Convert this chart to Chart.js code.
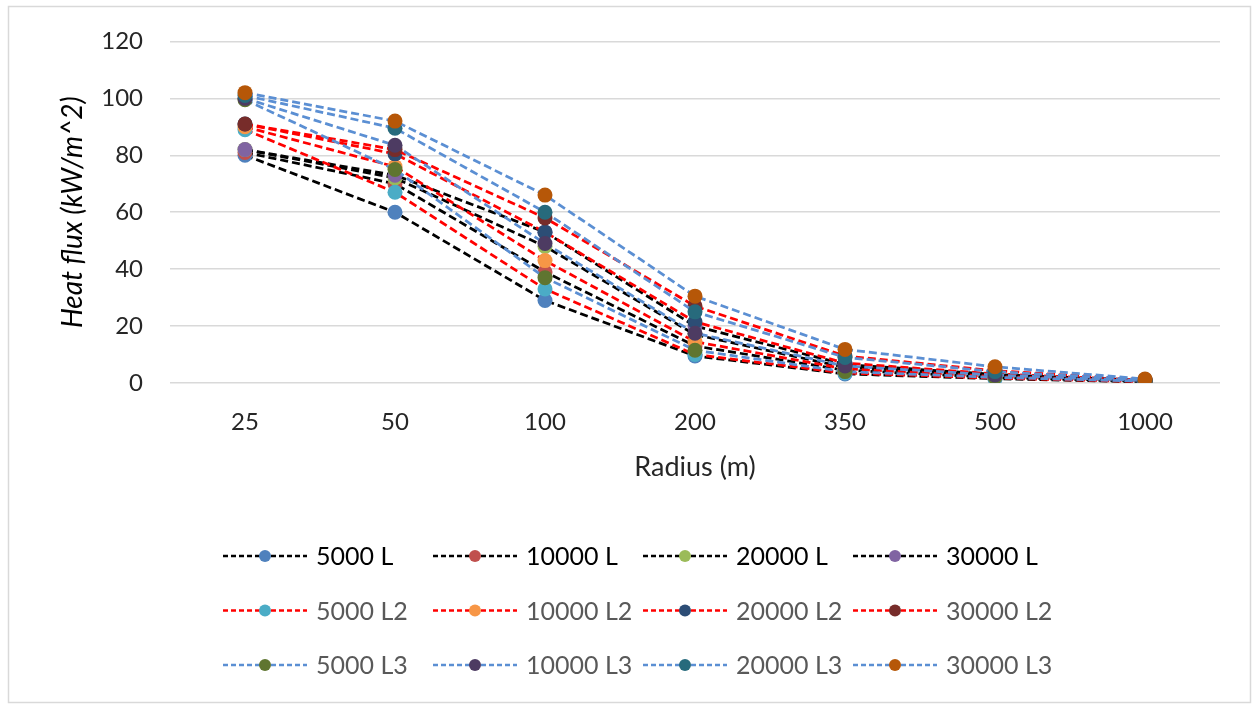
<!DOCTYPE html>
<html>
<head>
<meta charset="utf-8">
<script src="https://cdn.jsdelivr.net/npm/chart.js@4.4.1/dist/chart.umd.min.js"></script>
<style>
  html, body { margin: 0; padding: 0; background: #fff; }
  #wrap { width: 1252px; height: 704px; }
</style>
</head>
<body>
<div id="wrap"><canvas id="fluxChart" width="1252" height="704"></canvas></div>
<script>
// categories (radius, m)
const radii = ["25", "50", "100", "200", "350", "500", "1000"];
const yTicks = [0, 20, 40, 60, 80, 100, 120];

// heat flux values, kW/m^2
const v5000L   = [80, 60, 29, 9.5, 3.2, 1.5, 0.4];
const v10000L  = [81, 70, 39, 13, 4.5, 2.0, 0.6];
const v20000L  = [82, 72, 48, 17, 5.5, 2.6, 0.8];
const v30000L  = [82, 73, 53, 20, 6.5, 3.0, 0.9];
const v5000L2  = [89, 67, 33, 10, 3.5, 1.7, 0.5];
const v10000L2 = [90, 76, 43, 14.5, 5, 2.3, 0.7];
const v20000L2 = [91, 80.5, 53, 21.5, 7, 3.2, 1.0];
const v30000L2 = [91, 82, 58, 27, 9.5, 4.3, 1.2];
const v5000L3  = [99.5, 75, 37, 11.5, 4, 2.0, 0.6];
const v10000L3 = [100, 83.5, 49, 17.5, 6, 2.8, 0.8];
const v20000L3 = [101, 89.5, 60, 25, 9, 4.0, 1.1];
const v30000L3 = [102, 92, 66, 30.5, 11.8, 5.7, 1.4];

const seriesNames = ["5000 L", "10000 L", "20000 L", "30000 L",
                     "5000 L2", "10000 L2", "20000 L2", "30000 L2",
                     "5000 L3", "10000 L3", "20000 L3", "30000 L3"];
const seriesValues = [v5000L, v10000L, v20000L, v30000L,
                      v5000L2, v10000L2, v20000L2, v30000L2,
                      v5000L3, v10000L3, v20000L3, v30000L3];

// styles
const lineColors = ["#000000", "#ff0000", "#5b8fd3"];
const markerColors = ["#4f81bd", "#c0504d", "#9bbb59", "#8064a2",
                      "#4bacc6", "#f79646", "#2c4d75", "#772c2a",
                      "#5f7530", "#4d3b62", "#276a7c", "#b65708"];
const FONT = "Lato";

const datasets = seriesNames.map((name, i) => ({
    label: name,
    data: seriesValues[i],
    borderColor: lineColors[Math.floor(i / 4)],
    borderWidth: 2.75,
    borderDash: [8, 4],
    pointBackgroundColor: markerColors[i],
    pointBorderColor: markerColors[i],
    pointRadius: 7.5,
    pointBorderWidth: 0,
    tension: 0,
    fill: false,
    order: seriesNames.length - i  // later series on top, like Excel
}));

// background + outer frame
const framePlugin = {
    id: "frame",
    beforeDraw(chart) {
        const ctx = chart.ctx;
        ctx.save();
        ctx.fillStyle = "#ffffff";
        ctx.fillRect(0, 0, chart.width, chart.height);
        ctx.strokeStyle = "#d9d9d9";
        ctx.lineWidth = 1.5;
        ctx.strokeRect(8.5, 6.5, 1242, 696);
        ctx.restore();
    }
};

// Excel-style legend: dashed line with marker, fixed columns
const legendPlugin = {
    id: "excelLegend",
    afterDraw(chart) {
        const ctx = chart.ctx;
        ctx.save();
        chart.data.datasets.forEach((ds, i) => {
            const row = Math.floor(i / 4), col = i % 4;
            const x0 = 223 + col * 210;
            const y = 556 + row * 54.5;
            ctx.strokeStyle = ds.borderColor;
            ctx.lineWidth = 2.5;
            ctx.setLineDash([5, 3]);
            ctx.beginPath();
            ctx.moveTo(x0, y);
            ctx.lineTo(x0 + 84, y);
            ctx.stroke();
            ctx.setLineDash([]);
            ctx.fillStyle = ds.pointBackgroundColor;
            ctx.beginPath();
            ctx.arc(x0 + 42, y, 6, 0, Math.PI * 2);
            ctx.fill();
            ctx.fillStyle = row === 0 ? "#000000" : "#595959";
            ctx.font = "25px " + FONT;
            ctx.textBaseline = "middle";
            ctx.fillText(ds.label, x0 + 93, y + 1);
        });
        ctx.restore();
    }
};

new Chart(document.getElementById("fluxChart"), {
    type: "line",
    data: { labels: radii, datasets: datasets },
    options: {
        responsive: false,
        animation: false,
        layout: { padding: { left: 45, right: 32, top: 41, bottom: 211 } },
        plugins: {
            legend: { display: false },
            tooltip: { enabled: false }
        },
        scales: {
            x: {
                type: "category",
                offset: true,
                grid: { display: false, drawTicks: false },
                border: { display: false },
                ticks: { color: "#262626", padding: 25, font: { family: FONT, size: 24 } },
                title: {
                    display: true,
                    text: "Radius (m)",
                    color: "#262626",
                    font: { family: FONT, size: 27 },
                    padding: { top: 0, bottom: 10 }
                },
                afterFit(axis) { axis.height = 110; }
            },
            y: {
                min: 0,
                max: 120,
                afterBuildTicks(axis) { axis.ticks = yTicks.map(v => ({ value: v })); },
                grid: { color: "#d9d9d9", lineWidth: 1.5, drawTicks: false },
                border: { display: false },
                ticks: { color: "#262626", padding: 27, font: { family: FONT, size: 24 } },
                title: {
                    display: true,
                    text: "Heat flux (kW/m^2)",
                    color: "#000000",
                    font: { family: FONT, size: 28, style: "italic" },
                    padding: { top: 11, bottom: 0 }
                },
                afterFit(axis) { axis.width = 125; }
            }
        }
    },
    plugins: [framePlugin, legendPlugin]
});
</script>
</body>
</html>
